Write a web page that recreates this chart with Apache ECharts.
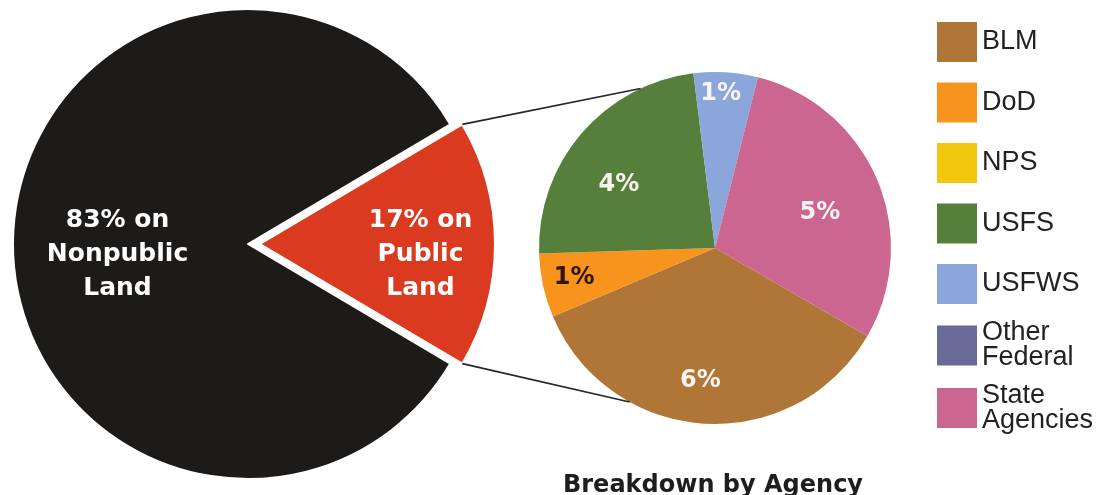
<!DOCTYPE html>
<html><head><meta charset="utf-8">
<script src="https://cdn.jsdelivr.net/npm/echarts@6/dist/echarts.min.js"></script>
<style>html,body{margin:0;padding:0;background:#fff}#c{width:1097px;height:495px}</style>
</head><body><div id="c"></div>
<script>
// ---- data ----
const landCategories = ['Nonpublic Land', 'Public Land'];
const landShares = [83, 17];
const agencies = ['BLM', 'DoD', 'NPS', 'USFS', 'USFWS', 'Other Federal', 'State Agencies'];
const agencyShares = [6, 1, 0, 4, 1, 0, 5];
const chartTitle = 'Breakdown by Agency';

// ---- styles ----
const FONT = '"Liberation Sans", Arial, Helvetica, sans-serif';
const BOLD_FONT = '"DejaVu Sans", "Liberation Sans", Arial, sans-serif';
const landColors = ['#1d1a1a', '#da3a1f'];
const agencyColors = ['#b07638', '#f7941d', '#f2c80f', '#557f3a', '#8ba6da', '#6a6a99', '#cb6690'];
const agencyLabelColors = {DoD: '#2e1608'};
const agencyLabelOffsets = {
  'BLM': [-9, 42], 'DoD': [-52, 10], 'USFS': [-27, -4], 'USFWS': [0, -63], 'State Agencies': [21, 0]
};
const landLabelOffsets = {'Nonpublic Land': [-10, 10], 'Public Land': [40, 10]};
const LEFT_CENTER = [248, 244], LEFT_R = 235, EXPLODE = 12;
const RIGHT_CENTER = [715, 248], RIGHT_R = 176;
const CONNECT_ANGLES = [115, -119]; // degrees on the breakdown pie where the connectors end

const chart = echarts.init(document.getElementById('c'), null, {renderer: 'canvas'});

const landData = landCategories.map((n, i) => ({
  name: n, value: landShares[i], selected: i === 1,
  itemStyle: {color: landColors[i]},
  label: {offset: landLabelOffsets[n]},
  select: {label: {offset: landLabelOffsets[n]}}
}));
const agencyData = agencies.map((n, i) => ({
  name: n, value: agencyShares[i],
  itemStyle: {color: agencyColors[i]},
  label: {show: agencyShares[i] > 0, offset: agencyLabelOffsets[n] || [0, 0],
          color: agencyLabelColors[n] || '#f7f4ee'}
}));
const legendData = agencies.map(n => ({
  name: n, textStyle: {lineHeight: n.indexOf(' ') >= 0 ? 25 : 50}
}));

chart.setOption({
  animation: false,
  backgroundColor: '#ffffff',
  title: {
    text: chartTitle, left: 713, top: 474, textAlign: 'center', padding: 0,
    textStyle: {fontFamily: BOLD_FONT, fontSize: 24, fontWeight: 'bold', color: '#1e1e1e'}
  },
  legend: {
    orient: 'vertical', left: 937, top: 17, padding: 0,
    itemWidth: 40, itemHeight: 40, itemGap: 10.5,
    icon: 'rect', selectedMode: false,
    data: legendData,
    formatter: n => n.replace(' ', '\n'),
    textStyle: {fontFamily: FONT, fontSize: 27, color: '#222'}
  },
  series: [
    {
      type: 'pie', name: 'Land', center: LEFT_CENTER, radius: [0, LEFT_R],
      startAngle: -30.6, clockwise: true,
      selectedMode: 'single', selectedOffset: EXPLODE,
      silent: true,
      itemStyle: {borderColor: '#ffffff', borderWidth: 2},
      label: {
        show: true, position: 'inside', color: '#ffffff',
        fontFamily: BOLD_FONT, fontSize: 25, fontWeight: 'bold', lineHeight: 34, align: 'center',
        formatter: p => p.value + '% on\n' + p.name.replace(' ', '\n')
      },
      labelLine: {show: false},
      emphasis: {disabled: true},
      data: landData
    },
    {
      type: 'pie', name: 'Agency', center: RIGHT_CENTER, radius: [0, RIGHT_R],
      startAngle: -30, clockwise: true, silent: true,
      label: {
        show: true, position: 'inside',
        fontFamily: BOLD_FONT, fontSize: 24, fontWeight: 'bold',
        formatter: p => p.value + '%'
      },
      labelLine: {show: false},
      emphasis: {disabled: true},
      data: agencyData
    }
  ]
});

// connectors: from exploded slice corners (library layout) to the breakdown pie edge
function drawConnectors() {
  let lines = [];
  try {
    const model = chart.getModel();
    const ld = model.getSeriesByIndex(0).getData();
    const rd = model.getSeriesByIndex(1).getData();
    const L = ld.getItemLayout(1);
    const R = rd.getItemLayout(0);
    const mid = (L.startAngle + L.endAngle) / 2;
    const ox = L.cx + Math.cos(mid) * EXPLODE, oy = L.cy + Math.sin(mid) * EXPLODE;
    const corners = [Math.min(L.startAngle, L.endAngle), Math.max(L.startAngle, L.endAngle)];
    corners.forEach((a, k) => {
      const sx = ox + L.r * Math.cos(a), sy = oy + L.r * Math.sin(a);
      const t = -CONNECT_ANGLES[k] * Math.PI / 180;
      const ex = R.cx + R.r * Math.cos(t), ey = R.cy + R.r * Math.sin(t);
      lines.push({type: 'line', silent: true, z: 10,
        shape: {x1: sx, y1: sy, x2: ex, y2: ey},
        style: {stroke: '#262626', lineWidth: 1.6}});
    });
  } catch (e) { console.error(e); }
  chart.setOption({graphic: lines});
}
drawConnectors();
</script></body></html>
